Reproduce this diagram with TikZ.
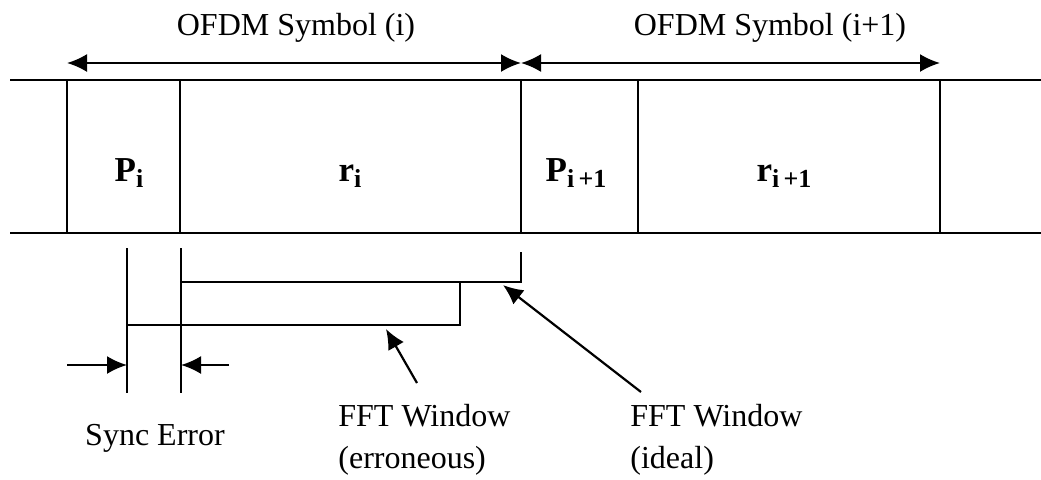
\documentclass[tikz,border=0pt]{standalone}
\usepackage{fontspec}
\setmainfont{Liberation Serif}
\usetikzlibrary{arrows.meta}

\tikzset{
  rail/.style={line width=1.1pt},
  span/.style={line width=1.1pt, {Latex[length=10pt,width=9pt]}-{Latex[length=10pt,width=9pt]}},
  pointer/.style={line width=1.1pt, -{Latex[length=10pt,width=9pt]}},
  cell/.style={font=\fontsize{17.5}{20}\selectfont\bfseries, anchor=base},
  note/.style={font=\fontsize{16}{21}\selectfont, align=left, inner sep=0pt}
}
\newcommand{\cellsub}[1]{\raisebox{-0.4ex}{\fontsize{13}{15}\selectfont\bfseries #1}}

\begin{document}
\begin{tikzpicture}[x=0.5pt,y=-0.5pt]
\useasboundingbox (0,0) rectangle (1041,479);

% the symbol stream
\draw[rail] (10,80) -- (1041,80);
\draw[rail] (10,233) -- (1041,233);
\foreach \x in {67,180,521,638,940} \draw[rail] (\x,80) -- (\x,233);

\node[cell] (p1) at (129,181) {P\cellsub{i}};
\node[cell] (r1) at (350,181) {r\cellsub{i}};
\node[cell] (p2) at (576,181) {P\cellsub{i\,+1}};
\node[cell] (r2) at (784,181) {r\cellsub{i\,+1}};

% symbol lengths
\coordinate (s0) at (67,63);
\coordinate (s1) at (521,63);
\coordinate (s2) at (940,63);
\draw[span] (s0) -- (s1);
\draw[span] (s1) -- (s2);
\node[note] (sym1) at (296,28) {OFDM Symbol (i)};
\node[note] (sym2) at (770,28) {OFDM Symbol (i+1)};

% fft windows
\coordinate (err) at (127,248);
\coordinate (ideal) at (181,248);
\draw[rail] (err) -- (127,393);
\draw[rail] (ideal) -- (181,393);
\draw[rail] (181,282) -- (521,282) -- (521,252);
\draw[rail] (127,325) -- (460,325) -- (460,282);

% sync error
\draw[pointer] (67,365) -- (127,365);
\draw[pointer] (229,365) -- (181,365);
\node[note] (sync) at (155,438) {Sync Error};

% labels
\node[note, anchor=west] (errtxt) at (338,440) {FFT Window\\(erroneous)};
\node[note, anchor=west] (idealtxt) at (630,440) {FFT Window\\(ideal)};
\coordinate (errtail) at (417,383);
\coordinate (errtip) at (386,329);
\coordinate (idealtail) at (641,392);
\coordinate (idealtip) at (503,285);
\draw[pointer] (errtail) -- (errtip);
\draw[pointer] (idealtail) -- (idealtip);
\end{tikzpicture}
\end{document}
